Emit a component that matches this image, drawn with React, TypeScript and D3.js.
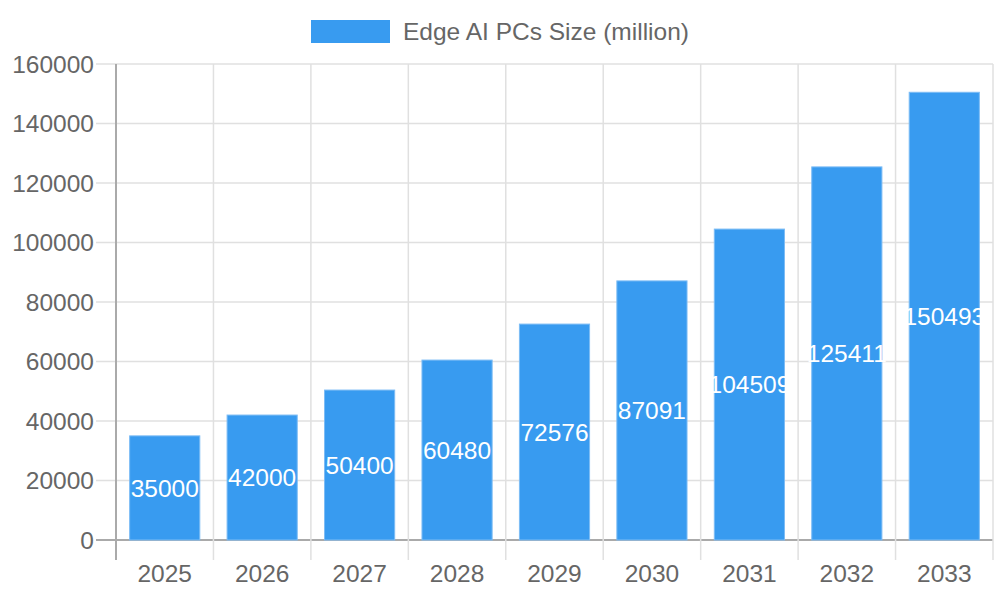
import React from "react";
import * as d3 from "d3";

const categories = ["2025", "2026", "2027", "2028", "2029", "2030", "2031", "2032", "2033"];
const values = [35000, 42000, 50400, 60480, 72576, 87091, 104509, 125411, 150493];
const yTicks = [0, 20000, 40000, 60000, 80000, 100000, 120000, 140000, 160000];
const seriesName = "Edge AI PCs Size (million)";

const W = 1000, H = 600;
const left = 116, right = 993, top = 64, bottom = 540;
const FONT = "'Liberation Sans', Arial, Helvetica, sans-serif";
const BAR = "#389BF0";
const FS = 24.5;

export default function App() {
  const x = d3.scaleBand<string>().domain(categories).range([left, right]).paddingInner(0).paddingOuter(0);
  const y = d3.scaleLinear().domain([0, 160000]).range([bottom, top]);
  const bw = x.bandwidth() * 0.72;
  const edges = categories.map((c) => x(c) as number).concat([right]);
  return (
    <svg width={W} height={H} style={{ position: "absolute", left: 0, top: 0, fontFamily: FONT }}>
      <rect width={W} height={H} fill="#fff" />
      {/* legend */}
      <rect x={311} y={20} width={79} height={23} fill={BAR} />
      <text x={403} y={40} fontSize={FS} fill="#666">{seriesName}</text>
      {/* horizontal grid */}
      {yTicks.map((t) => (
        <g key={t}>
          <line x1={96} x2={right} y1={y(t)} y2={y(t)} stroke={t === 0 ? "#aaa" : "#e0e0e0"} strokeWidth={t === 0 ? 2 : 1.5} />
          <text x={94} y={y(t)} dy="0.35em" textAnchor="end" fontSize={FS} fill="#666">{t}</text>
        </g>
      ))}
      {/* vertical grid */}
      {edges.map((e, i) => (
        <line key={i} x1={e} x2={e} y1={top} y2={560} stroke={i === 0 ? "#aaa" : "#e0e0e0"} strokeWidth={i === 0 ? 2 : 1.5} />
      ))}
      {/* bars */}
      {values.map((v, i) => {
        const cx = (x(categories[i]) as number) + x.bandwidth() / 2;
        return (
          <g key={i}>
            <rect x={cx - bw / 2} y={y(v)} width={bw} height={bottom - y(v)} fill={BAR} stroke="#7cbcf5" strokeWidth={1} />
            <text x={cx} y={(y(v) + bottom) / 2} dy="0.35em" textAnchor="middle" fontSize={FS} fill="#fff">{v}</text>
          </g>
        );
      })}
      {/* x labels */}
      {categories.map((c) => (
        <text key={c} x={(x(c) as number) + x.bandwidth() / 2} y={582} textAnchor="middle" fontSize={FS} fill="#666">{c}</text>
      ))}
    </svg>
  );
}
